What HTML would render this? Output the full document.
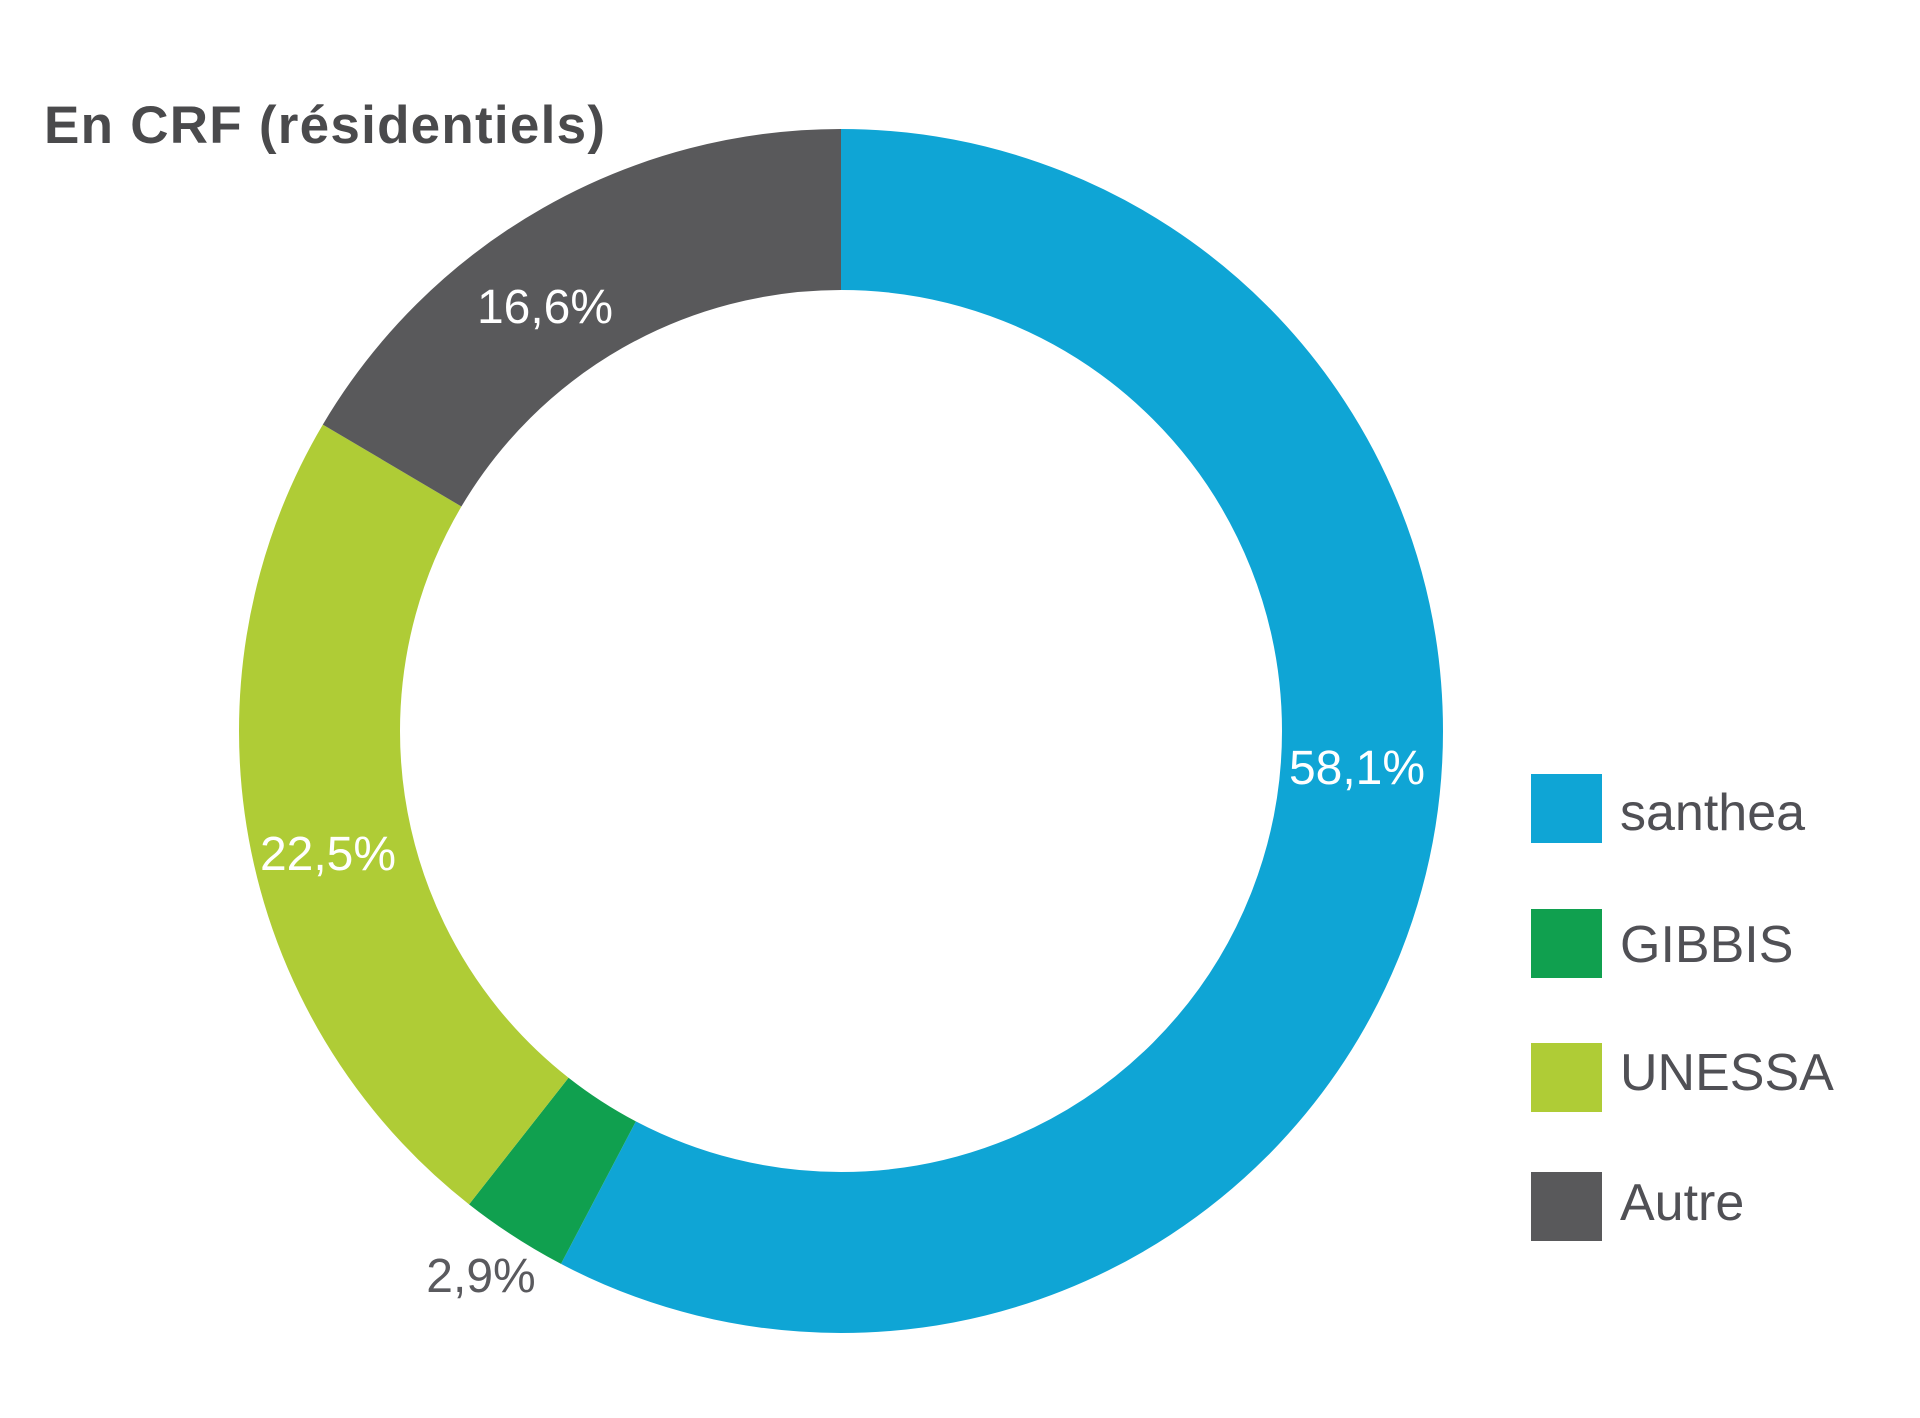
<!DOCTYPE html>
<html><head><meta charset="utf-8"><style>
html,body{margin:0;padding:0;background:#fff;}
svg{display:block}
</style></head><body>
<svg width="1920" height="1418" viewBox="0 0 1920 1418" xmlns="http://www.w3.org/2000/svg">
<rect width="1920" height="1418" fill="#fff"/>
<g transform="rotate(-90 841 731)" fill="none" stroke-width="161">
<circle cx="841" cy="731" r="521.5" pathLength="100" stroke="#0fa5d5" stroke-dasharray="57.7 42.3" stroke-dashoffset="0"/>
<circle cx="841" cy="731" r="521.5" pathLength="100" stroke="#10a04f" stroke-dasharray="2.9 97.1" stroke-dashoffset="-57.7"/>
<circle cx="841" cy="731" r="521.5" pathLength="100" stroke="#afcc36" stroke-dasharray="22.9 77.1" stroke-dashoffset="-60.6"/>
<circle cx="841" cy="731" r="521.5" pathLength="100" stroke="#59595b" stroke-dasharray="16.5 83.5" stroke-dashoffset="-83.5"/>
</g>
<g font-family="Liberation Sans, sans-serif">
<text x="44" y="143" font-size="53" font-weight="bold" fill="#4a4a4c" letter-spacing="1" textLength="562">En CRF (résidentiels)</text>
<g font-size="48" fill="#fff" text-anchor="middle">
<text x="1357" y="784">58,1%</text>
<text x="545" y="323">16,6%</text>
<text x="328" y="870">22,5%</text>
<text x="481" y="1292" fill="#5a5a5e">2,9%</text>
</g>
<rect x="1531" y="774" width="71" height="69" fill="#0fa5d5"/>
<rect x="1531" y="909" width="71" height="69" fill="#10a04f"/>
<rect x="1531" y="1043" width="71" height="69" fill="#afcc36"/>
<rect x="1531" y="1172" width="71" height="69" fill="#59595b"/>
<g font-size="52" fill="#505055">
<text x="1620" y="830">santhea</text>
<text x="1620" y="962">GIBBIS</text>
<text x="1620" y="1090">UNESSA</text>
<text x="1620" y="1220">Autre</text>
</g>
</g>
</svg>
</body></html>
